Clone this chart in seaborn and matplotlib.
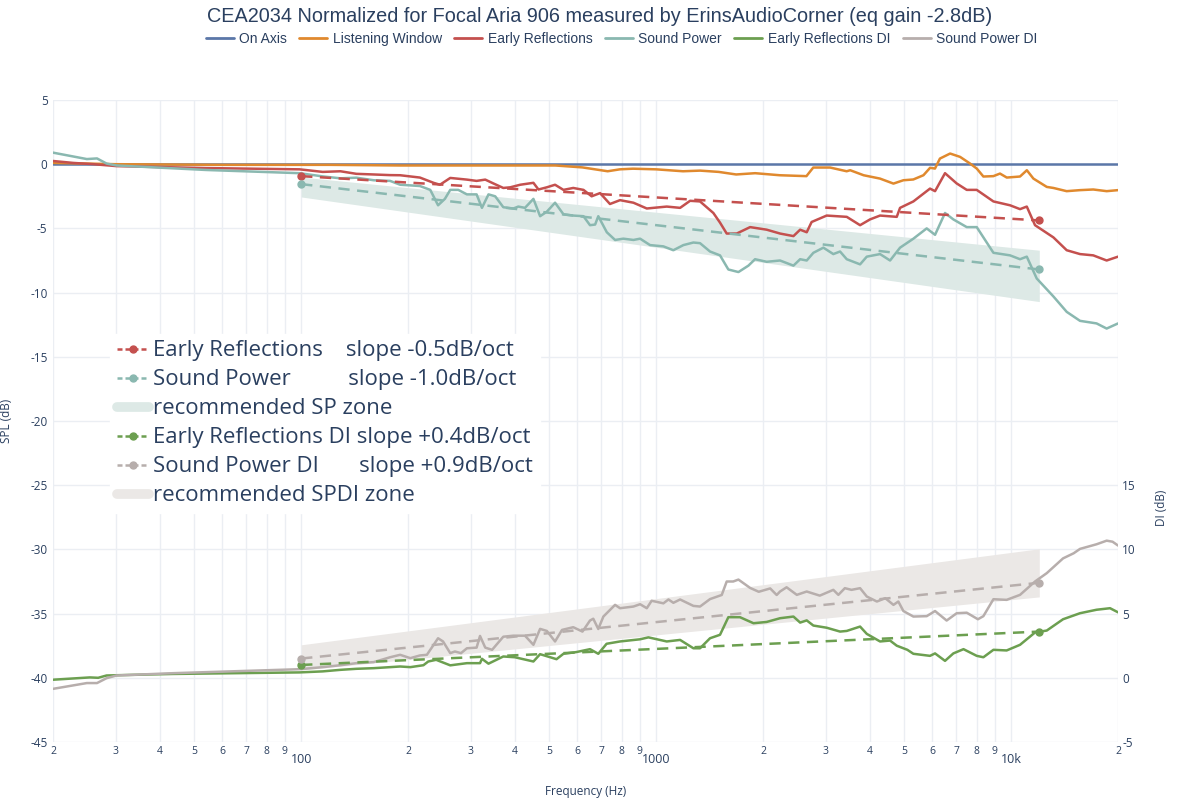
import numpy as np
import pandas as pd
import seaborn as sns
import matplotlib.pyplot as plt
from matplotlib.lines import Line2D

# --- data ---
on_freq = [20, 20000]
on_db = [0.0, 0.0]

lw_freq = [20, 25, 30, 60, 120, 190, 300, 520, 620, 730,
           790, 860, 1000, 1190, 1330, 1500, 1680, 1900, 2230, 2650,
           2770, 3090, 3440, 3520, 3840, 4270, 4660, 4970, 5300, 5660,
           5910, 6100, 6300, 6730, 7180, 7660, 8000, 8350, 8910, 9300,
           9720, 10590, 11070, 11550, 12600, 13150, 14330, 15630, 17030, 18580,
           20000]
lw_db = [0.1, 0.05, 0.0, -0.05, -0.05, -0.1, -0.1, -0.1, -0.25, -0.55,
         -0.4, -0.35, -0.4, -0.55, -0.5, -0.6, -0.8, -0.7, -0.86, -0.93,
         -0.26, -0.26, -0.55, -0.47, -0.86, -1.12, -1.51, -1.25, -1.19, -0.86,
         -0.28, -0.34, 0.44, 0.83, 0.57, 0.05, -0.34, -0.96, -0.93, -0.73,
         -1.04, -0.96, -0.47, -1.12, -1.77, -1.85, -2.1, -2.02, -1.97, -2.1,
         -2.02]

er_freq = [20, 22.8, 26, 30.2, 54, 99, 115, 129, 143, 160, 178,
           190, 216, 236, 246, 263, 293, 312, 330, 348, 371,
           388, 414, 451, 466, 492, 519, 548, 584, 624, 658,
           695, 741, 791, 863, 941, 1071, 1168, 1246, 1329, 1449,
           1513, 1580, 1686, 1839, 2048, 2233, 2436, 2544, 2655, 2741,
           3022, 3442, 3753, 4003, 4272, 4761, 4864, 5303, 5907, 6103,
           6511, 7024, 7496, 7998, 8912, 9928, 10592, 11066, 11673, 13151,
           14336, 15630, 17030, 18576, 20000]
er_db = [0.25, 0.1, 0.0, -0.15, -0.3, -0.4, -0.6, -0.55, -0.75, -0.8, -0.85,
         -0.86, -1.04, -1.45, -1.6, -1.07, -1.2, -1.3, -1.2, -1.5, -1.85,
         -1.8, -1.6, -1.45, -1.97, -1.8, -1.6, -2.0, -1.85, -2.0, -2.5,
         -2.25, -3.1, -2.8, -3.0, -3.45, -3.3, -3.4, -2.85, -2.9, -3.8,
         -4.55, -5.4, -5.4, -4.9, -5.1, -5.4, -5.6, -5.1, -5.3, -4.5,
         -4.0, -4.1, -4.75, -4.3, -4.0, -4.1, -3.4, -2.9, -1.9, -2.1,
         -0.7, -1.5, -2.0, -2.0, -2.9, -3.2, -3.5, -3.3, -4.75, -5.7,
         -6.7, -7.0, -7.1, -7.5, -7.2]

sp_freq = [20, 24.9, 26.6, 28.3, 30.2, 54, 99, 115, 129, 143, 160, 178,
           190, 203, 216, 231, 243, 254, 263, 277, 293, 312,
           323, 337, 352, 371, 396, 409, 427, 451, 471, 492,
           519, 548, 584, 624, 651, 673, 687, 726, 766, 808,
           863, 901, 961, 1048, 1118, 1193, 1273, 1329, 1418, 1513,
           1597, 1705, 1819, 1899, 2048, 2233, 2436, 2544, 2655, 2772,
           2958, 3155, 3296, 3442, 3753, 3920, 4272, 4559, 4864, 5303,
           5781, 6103, 6511, 6873, 7496, 7998, 8912, 9928, 10592, 11066,
           11802, 13151, 14336, 15630, 17400, 18576, 20000]
sp_db = [0.9, 0.4, 0.45, 0.05, -0.1, -0.45, -0.7, -0.95, -1.1, -1.05, -1.25, -1.3,
         -1.6, -1.65, -1.7, -2.0, -3.2, -2.7, -2.0, -2.0, -2.35, -2.35,
         -3.4, -2.35, -2.5, -3.35, -3.45, -3.3, -3.4, -2.7, -4.05, -3.7,
         -3.0, -3.9, -4.0, -4.05, -4.75, -4.7, -4.05, -5.3, -5.9, -5.8,
         -5.9, -5.8, -6.3, -6.4, -6.7, -6.3, -6.1, -6.15, -6.8, -7.1,
         -8.2, -8.4, -7.9, -7.4, -7.6, -7.5, -7.9, -7.4, -7.5, -6.9,
         -6.5, -7.0, -6.8, -7.4, -7.8, -7.2, -7.0, -7.5, -6.5, -5.8,
         -5.0, -5.5, -3.8, -4.3, -4.9, -4.9, -6.9, -7.1, -7.4, -7.2,
         -8.9, -10.3, -11.5, -12.2, -12.4, -12.8, -12.4]

erdi_freq = [20, 25.4, 26.8, 28.3, 30.2, 43.6, 99, 115, 129, 143, 160, 178,
             190, 203, 221, 228, 240, 263, 293, 319, 323, 337,
             371, 400, 451, 471, 524, 548, 595, 651, 687, 725,
             791, 901, 951, 1071, 1168, 1273, 1329, 1418, 1513, 1597,
             1722, 1880, 2048, 2233, 2436, 2544, 2655, 2772, 3022, 3296,
             3442, 3753, 3920, 4272, 4559, 4761, 5100, 5303, 5907, 6103,
             6511, 6873, 7340, 7998, 8350, 8912, 9710, 10592, 11673, 12596,
             14000, 15630, 17400, 18990, 20000]
erdi_db = [-0.15, 0.03, 0.0, 0.18, 0.2, 0.3, 0.42, 0.5, 0.62, 0.7, 0.75, 0.83,
           0.88, 0.83, 0.98, 1.27, 1.4, 0.97, 1.14, 1.14, 1.48, 1.1,
           1.66, 1.6, 1.27, 1.84, 1.45, 1.87, 2.0, 2.23, 1.87, 2.65,
           2.83, 3.0, 3.15, 2.83, 2.95, 2.3, 2.3, 3.08, 3.35, 4.72,
           4.72, 4.25, 4.35, 4.64, 4.77, 4.3, 4.47, 4.07, 3.9, 3.6,
           3.65, 3.99, 3.42, 2.83, 2.9, 2.5, 2.18, 1.87, 1.71, 1.9,
           1.32, 1.9, 2.23, 1.71, 1.6, 2.18, 2.13, 2.57, 3.53, 3.68,
           4.56, 5.03, 5.3, 5.42, 5.1]

spdi_freq = [20, 24.9, 26.6, 28.3, 30.2, 43.6, 99, 115, 129, 143, 160, 178,
             190, 203, 216, 226, 243, 251, 263, 271, 282, 293,
             312, 319, 330, 345, 371, 396, 427, 451, 471, 492,
             519, 543, 584, 620, 651, 665, 687, 710, 766, 791,
             863, 901, 941, 971, 1048, 1083, 1118, 1168, 1273, 1329,
             1418, 1530, 1580, 1648, 1705, 1839, 1945, 2095, 2185, 2233,
             2330, 2490, 2655, 2890, 3155, 3260, 3400, 3550, 3753, 3920,
             4185, 4420, 4660, 4810, 4970, 5303, 5781, 6103, 6580, 7024,
             7496, 8060, 8350, 8912, 9710, 10592, 11673, 12596, 14000, 15000,
             15630, 17400, 18576, 19300, 20000]
spdi_db = [-0.86, -0.41, -0.41, -0.03, 0.18, 0.36, 0.67, 0.83, 0.98, 1.14, 1.22, 1.6,
           1.79, 1.53, 1.74, 1.79, 3.08, 2.83, 1.92, 2.05, 1.92, 2.3,
           2.35, 3.26, 2.35, 2.18, 3.2, 3.28, 3.28, 2.57, 3.81, 3.65,
           2.83, 3.73, 3.94, 3.6, 4.46, 4.6, 3.8, 4.77, 5.68, 5.42,
           5.55, 5.73, 5.42, 6.0, 5.8, 6.1, 5.84, 6.1, 5.6, 5.55,
           6.13, 6.45, 7.5, 7.5, 7.65, 7.0, 6.7, 6.96, 6.45, 6.72,
           7.05, 6.46, 6.72, 6.4, 6.85, 6.46, 6.98, 6.85, 6.98, 6.33,
           5.94, 6.2, 5.68, 5.94, 5.2, 4.77, 4.8, 5.2, 4.46, 5.03,
           5.07, 4.56, 4.8, 6.12, 6.07, 6.46, 7.5, 8.15, 9.3, 9.7,
           10.04, 10.4, 10.68, 10.6, 10.3]

# trend lines and recommended zones (100 Hz .. 12 kHz)
trend_freq = [100, 12000]
er_trend = [-0.93, -4.38]
sp_trend = [-1.55, -8.2]
sp_zone_hi = [-1.0, -6.7]
sp_zone_lo = [-2.55, -10.7]
erdi_trend = [1.0, 3.6]
spdi_trend = [1.5, 7.4]
spdi_zone_hi = [2.57, 10.05]
spdi_zone_lo = [0.6, 6.3]

top_names = ['On Axis', 'Listening Window', 'Early Reflections',
             'Sound Power', 'Early Reflections DI', 'Sound Power DI']
trend_names = ['Early Reflections    slope -0.5dB/oct',
               'Sound Power          slope -1.0dB/oct',
               'recommended SP zone',
               'Early Reflections DI slope +0.4dB/oct',
               'Sound Power DI       slope +0.9dB/oct',
               'recommended SPDI zone']

colors = ['#5b77a8', '#e0892e', '#c4504e', '#8ab8b0', '#6c9f50', '#b7aeac']
sp_zone_color = '#dde9e6'
spdi_zone_color = '#ebe8e6'
text_color = '#2a3f5f'
grid_color = '#ebeef3'

sns.set_theme(style='white')
plt.rcParams['font.family'] = ['Open Sans', 'DejaVu Sans']
plt.rcParams['text.color'] = text_color
plt.rcParams['axes.unicode_minus'] = False
arial = ['Liberation Sans', 'DejaVu Sans']

fig = plt.figure(figsize=(12, 8), dpi=100)
ax = fig.add_axes([0.0442, 0.0725, 0.8875, 0.8025])
ax2 = ax.twinx()

# zones
ax.fill_between(trend_freq, sp_zone_lo, sp_zone_hi, color=sp_zone_color, lw=0, zorder=1)
ax2.fill_between(trend_freq, spdi_zone_lo, spdi_zone_hi, color=spdi_zone_color, lw=0, zorder=1)

# spl curves
spl = [(on_freq, on_db), (lw_freq, lw_db), (er_freq, er_db), (sp_freq, sp_db)]
for (f, v), c in zip(spl, colors[:4]):
    sns.lineplot(x=f, y=v, ax=ax, color=c, linewidth=1.8, estimator=None,
                 sort=False, legend=False, zorder=3)
for (f, v), c in zip([(erdi_freq, erdi_db), (spdi_freq, spdi_db)], colors[4:]):
    sns.lineplot(x=f, y=v, ax=ax2, color=c, linewidth=1.8, estimator=None,
                 sort=False, legend=False, zorder=3)

dash = (0, (4.5, 3))
for a, v, c in [(ax, er_trend, colors[2]), (ax, sp_trend, colors[3]),
                (ax2, erdi_trend, colors[4]), (ax2, spdi_trend, colors[5])]:
    a.plot(trend_freq, v, color=c, lw=1.8, ls=dash, marker='o', ms=5, zorder=4)

ax.set_xscale('log')
ax.set_xlim(20, 20000)
ax.set_ylim(-45, 5)
ax.set_yticks(np.arange(-45, 6, 5))
ax2.set_ylim(-5, 45)
ax2.set_yticks([-5, 0, 5, 10, 15])

major = [100, 1000, 10000]
minor = [m * d for d in (10, 100, 1000) for m in range(2, 10)] + [20000]
ax.set_xticks(major)
ax.set_xticklabels(['100', '1000', '10k'])
ax.set_xticks(minor, minor=True)
ax.set_xticklabels([str(m)[0] for m in minor], minor=True)

ax.grid(which='both', axis='x', color=grid_color, lw=1)
ax.grid(which='major', axis='y', color=grid_color, lw=1)
ax2.grid(False)
ax.set_axisbelow(True)
for a in (ax, ax2):
    for s in a.spines.values():
        s.set_visible(False)
ax.tick_params(axis='x', which='major', length=0, pad=8, labelsize=9, labelcolor=text_color)
ax.tick_params(axis='x', which='minor', length=0, pad=3, labelsize=7.5, labelcolor=text_color)
ax.tick_params(axis='y', length=0, pad=4, labelsize=8.5, labelcolor=text_color)
ax2.tick_params(axis='y', length=0, pad=3, labelsize=8.5, labelcolor=text_color)

ax.set_xlabel('Frequency (Hz)', fontsize=8.5, color=text_color)
ax.xaxis.set_label_coords(0.5, -0.067)
ax.set_ylabel('SPL (dB)', fontsize=8.5, color=text_color)
ax.yaxis.set_label_coords(-0.038, 0.5)
ax2.set_ylabel('DI (dB)', fontsize=8.5, color=text_color)
ax2.yaxis.set_label_coords(1.035, 0.365)

fig.text(0.5, 1 - 16 / 800, 'CEA2034 Normalized for Focal Aria 906 measured by ErinsAudioCorner (eq gain -2.8dB)',
         ha='center', va='center', fontsize=14.3, family=arial, color=text_color)

top_handles = [Line2D([], [], color=c, lw=2) for c in colors]
fig.legend(top_handles, top_names, loc='center', bbox_to_anchor=(0.518, 1 - 39 / 800), ncol=6,
           frameon=False, prop={'family': arial, 'size': 10}, handlelength=2.0,
           columnspacing=0.9, handletextpad=0.4, labelcolor=text_color)

handle_dash = (0, (2, 1.2))
trend_handles = [
    Line2D([], [], color=colors[2], lw=1.8, ls=handle_dash, marker='o', ms=5),
    Line2D([], [], color=colors[3], lw=1.8, ls=handle_dash, marker='o', ms=5),
    Line2D([], [], color=sp_zone_color, lw=7),
    Line2D([], [], color=colors[4], lw=1.8, ls=handle_dash, marker='o', ms=5),
    Line2D([], [], color=colors[5], lw=1.8, ls=handle_dash, marker='o', ms=5),
    Line2D([], [], color=spdi_zone_color, lw=7),
]
leg = ax2.legend(trend_handles, trend_names, loc='upper left', bbox_to_anchor=(0.0535, 0.636),
                 fontsize=16, frameon=True, facecolor='white', edgecolor='white', framealpha=1,
                 fancybox=False, borderpad=0.3, borderaxespad=0, labelspacing=0.36,
                 handlelength=1.45, handletextpad=0.2, labelcolor=text_color)
leg.set_zorder(10)

fig.savefig('out.png', dpi=100)
